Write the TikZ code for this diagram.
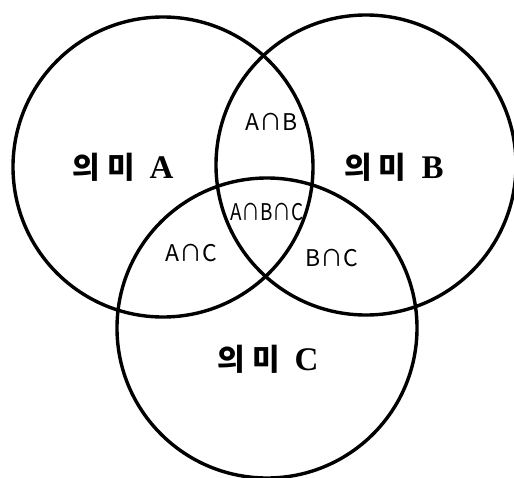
\documentclass[tikz,border=0pt]{standalone}
\usepackage{fontspec}
\setmainfont{Liberation Serif}
\newfontfamily\krfont{Noto Sans CJK KR}
\usepackage{tikz}
\usetikzlibrary{positioning}
\newcommand{\uimi}{{\krfont\fontsize{30}{33}\selectfont 의\hspace{7pt}미}\hspace{15pt}}
\tikzset{
  setc/.style  ={draw, circle, line width=3.4pt, minimum size=300pt, inner sep=0pt},
  setlbl/.style={font=\fontsize{33}{36}\selectfont\bfseries, inner sep=0pt},
  cutlbl/.style={font=\krfont\fontsize{23}{26}\selectfont, inner sep=0pt},
}
\begin{document}
\begin{tikzpicture}[x=1pt, y=-1pt]
  \useasboundingbox (0,0) rectangle (514,477);
  % the three sets
  \node[setc] (ca) at (163,167) {};
  \node[setc] (cb) at (366,165) {};
  \node[setc] (cc) at (267,328) {};

  % names of the sets
  \node[setlbl] (na) at (123,167) {\uimi A};
  \node[setlbl] (nb) at (394,167) {\uimi B};
  \node[setlbl] (nc) at (268,359) {\uimi C};

  % overlaps
  \node[cutlbl] (ab)  at (272,122) {A∩B};
  \node[cutlbl, xscale=0.82] (abc) at (267,212) {A∩B∩C};
  \node[cutlbl] (ac)  at (191,253) {A∩C};
  \node[cutlbl] (bc)  at (332,258) {B∩C};
\end{tikzpicture}
\end{document}
